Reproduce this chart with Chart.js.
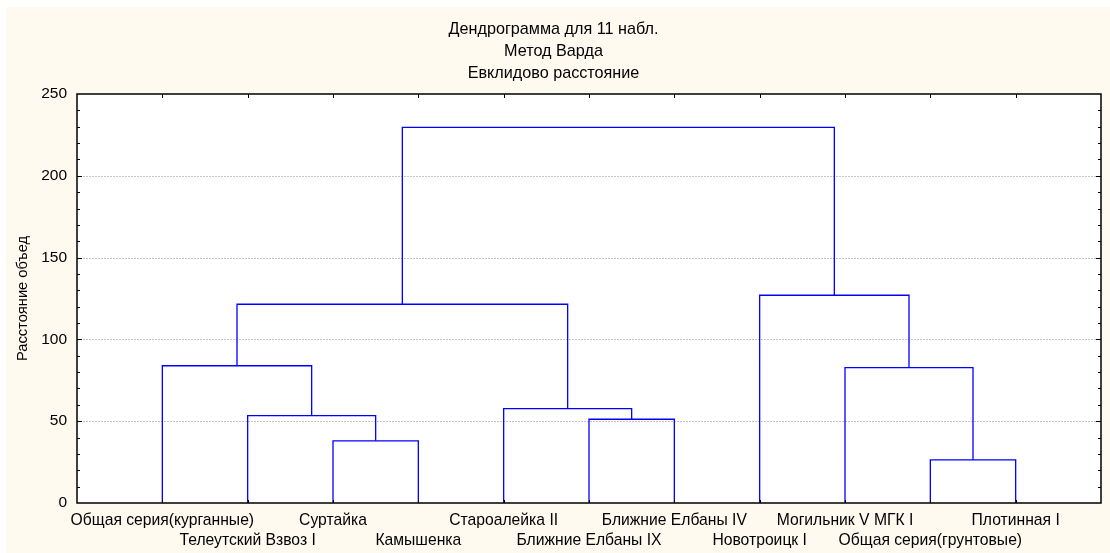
<!DOCTYPE html>
<html>
<head>
<meta charset="utf-8">
<script src="https://cdn.jsdelivr.net/npm/chart.js@4.4.1/dist/chart.umd.min.js"></script>
<style>
  html, body { margin: 0; padding: 0; background: #ffffff; }
  #wrap { width: 1110px; height: 553px; }
</style>
</head>
<body>
<div id="wrap"><canvas id="dendro" width="1110" height="553"></canvas></div>
<script>
// Leaves in display order
const leaves = [
    'Общая серия(курганные)',
    'Телеутский Взвоз I',
    'Суртайка',
    'Камышенка',
    'Староалейка II',
    'Ближние Елбаны IX',
    'Ближние Елбаны IV',
    'Новотроицк I',
    'Могильник V МГК I',
    'Общая серия(грунтовые)',
    'Плотинная I'
];

// Linkage: nodes 0..10 are leaves, merge i creates node 11 + i
const mergeLeft = [2, 9, 5, 1, 4, 8, 0, 17, 7, 18];
const mergeRight = [3, 10, 6, 11, 13, 12, 14, 15, 16, 19];
const mergeHeight = [38.0, 26.4, 51.2, 53.4, 57.7, 82.8, 83.9, 121.5, 127.0, 229.6];

const yTicks = [0, 50, 100, 150, 200, 250];

const titleLines = ['Дендрограмма для 11 набл.', 'Метод Варда', 'Евклидово расстояние'];
const yTitle = 'Расстояние объед';

// x position / height of any node
function nodePos(n) {
    if (n < leaves.length) return n + 1;
    const m = n - leaves.length;
    return (nodePos(mergeLeft[m]) + nodePos(mergeRight[m])) / 2;
}
function nodeHeight(n) {
    return n < leaves.length ? 0 : mergeHeight[n - leaves.length];
}

const linkDatasets = mergeHeight.map((h, i) => {
    const a = mergeLeft[i], b = mergeRight[i];
    return {
        data: [
            { x: nodePos(a), y: nodeHeight(a) },
            { x: nodePos(a), y: h },
            { x: nodePos(b), y: h },
            { x: nodePos(b), y: nodeHeight(b) }
        ],
        showLine: true,
        borderColor: '#0000ff',
        borderWidth: 1.3,
        pointRadius: 0,
        tension: 0,
        fill: false
    };
});

const FONT = 'Liberation Sans, Arial, sans-serif';

// backgrounds, dotted grid, frame and inward ticks
const framePlugin = {
    id: 'frame',
    beforeDraw(chart) {
        const ctx = chart.ctx, a = chart.chartArea;
        ctx.save();
        ctx.fillStyle = '#ffffff';
        ctx.fillRect(0, 0, chart.width, chart.height);
        ctx.fillStyle = '#fffaf0';
        ctx.fillRect(6, 7, chart.width - 6, chart.height - 7);
        ctx.fillStyle = '#ffffff';
        ctx.fillRect(a.left, a.top, a.right - a.left, a.bottom - a.top);
        ctx.restore();
    },
    beforeDatasetsDraw(chart) {
        const ctx = chart.ctx, a = chart.chartArea, y = chart.scales.y;
        ctx.save();
        ctx.strokeStyle = '#c4c4c4';
        ctx.lineWidth = 1;
        ctx.setLineDash([2, 1]);
        yTicks.slice(1, -1).forEach(v => {
            const py = Math.round(y.getPixelForValue(v)) + 0.5;
            ctx.beginPath();
            ctx.moveTo(a.left, py);
            ctx.lineTo(a.right, py);
            ctx.stroke();
        });
        ctx.restore();
    },
    afterDatasetsDraw(chart) {
        const ctx = chart.ctx, a = chart.chartArea, x = chart.scales.x, y = chart.scales.y;
        ctx.save();
        ctx.strokeStyle = '#000000';
        ctx.lineWidth = 1;
        ctx.beginPath();
        leaves.forEach((_, i) => {
            const px = Math.round(x.getPixelForValue(i + 1)) + 0.5;
            ctx.moveTo(px, a.top);
            ctx.lineTo(px, a.top + 4);
            ctx.moveTo(px, a.bottom);
            ctx.lineTo(px, a.bottom - 3);
        });
        for (let v = 10; v < 250; v += 10) {
            const py = Math.round(y.getPixelForValue(v)) + 0.5;
            const len = v % 50 === 0 ? 5 : 3;
            ctx.moveTo(a.left, py);
            ctx.lineTo(a.left + len, py);
            ctx.moveTo(a.right, py);
            ctx.lineTo(a.right - len, py);
        }
        ctx.stroke();
        ctx.lineWidth = 1.5;
        ctx.strokeRect(a.left, a.top, a.right - a.left, a.bottom - a.top);
        ctx.restore();
    }
};

new Chart(document.getElementById('dendro'), {
    type: 'scatter',
    data: { datasets: linkDatasets },
    options: {
        responsive: false,
        animation: false,
        layout: { padding: { left: 6, right: 9, top: 0, bottom: 0 } },
        plugins: {
            legend: { display: false },
            tooltip: { enabled: false },
            title: {
                display: true,
                text: titleLines,
                color: '#000000',
                font: { family: FONT, size: 16.2, weight: 'normal', lineHeight: 22 / 16.2 },
                padding: { top: 19, bottom: 9 }
            }
        },
        scales: {
            x: {
                type: 'linear',
                min: 0,
                max: leaves.length + 1,
                afterBuildTicks(scale) {
                    scale.ticks = leaves.map((_, i) => ({ value: i + 1 }));
                },
                grid: { display: false, drawTicks: false },
                border: { display: false },
                ticks: {
                    autoSkip: false,
                    maxRotation: 0,
                    minRotation: 0,
                    padding: 8,
                    color: '#000000',
                    font: { family: FONT, size: 15.7, lineHeight: 20 / 15.7 },
                    callback: (v) => {
                        const name = leaves[Math.round(v) - 1];
                        return Math.round(v) % 2 === 1 ? [name, ''] : ['', name];
                    }
                },
                afterFit(scale) { scale.height = 50; }
            },
            y: {
                min: 0,
                max: 250,
                afterBuildTicks(scale) {
                    scale.ticks = yTicks.map(v => ({ value: v }));
                },
                grid: { display: false, drawTicks: false },
                border: { display: false },
                ticks: {
                    padding: 10,
                    color: '#000000',
                    font: { family: FONT, size: 15.5 }
                },
                title: {
                    display: true,
                    text: yTitle,
                    color: '#000000',
                    font: { family: FONT, size: 14.7 },
                    padding: { top: 8, bottom: 0 }
                },
                afterFit(scale) { scale.width = 71; }
            }
        }
    },
    plugins: [framePlugin]
});
</script>
</body>
</html>
